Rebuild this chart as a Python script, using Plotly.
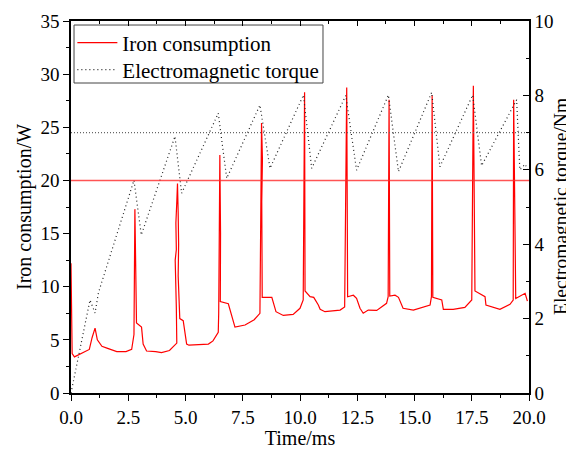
import plotly.graph_objects as go

# ---- data ----
iron_time = [0.0, 0.05, 0.15, 0.45, 0.8, 0.92, 1.05, 1.15, 1.35, 1.6, 2.0, 2.4, 2.65, 2.75,
             2.79, 2.86, 2.95, 3.08, 3.15, 3.3, 3.7, 3.95, 4.3, 4.5, 4.62,
             4.6, 4.55, 4.6, 4.58, 4.62, 4.65, 4.68, 4.7, 4.68, 4.72, 4.75,
             4.9, 5.05, 5.15, 6.0, 6.2, 6.43,
             6.45, 6.47, 6.5, 6.53, 6.52,
             6.87, 7.16, 7.6, 8.0, 8.25,
             8.27, 8.25, 8.3, 8.32, 8.36, 8.33, 8.35, 8.35,
             8.77, 8.95, 9.27, 9.7, 10.0, 10.14,
             10.2, 10.22, 10.44, 10.6, 10.8, 10.88, 11.09, 11.75, 11.95,
             12.04, 12.08, 12.33, 12.47, 12.62, 12.76, 12.98, 13.35, 13.78, 13.85,
             13.89, 13.92, 14.15, 14.3, 14.5, 14.95, 15.31, 15.68, 15.74,
             15.77, 15.8, 16.19, 16.26, 16.69, 17.2, 17.5,
             17.57, 17.64, 18.08, 18.12, 18.73, 19.17, 19.31,
             19.33, 19.42, 19.83, 19.93]
iron_power = [12.2, 3.7, 3.4, 3.7, 4.1, 5.2, 6.1, 5.0, 4.4, 4.2, 3.9, 3.9, 4.1, 5.5,
              17.3, 6.6, 6.4, 6.2, 4.6, 3.95, 3.9, 3.8, 4.0, 4.4, 4.7,
              8.0, 12.5, 13.5, 16.0, 18.0, 19.7, 17.0, 14.0, 11.0, 8.0, 7.0,
              6.8, 4.6, 4.5, 4.6, 4.9, 5.7,
              7.5, 14.5, 22.4, 15.0, 8.6,
              8.4, 6.2, 6.4, 6.9, 7.5,
              13.5, 14.5, 20.0, 25.4, 22.0, 18.0, 12.0, 9.0,
              9.0, 7.65, 7.3, 7.4, 7.97, 8.75,
              28.3, 9.6, 9.06, 9.0, 8.28, 7.87, 7.65, 7.8, 8.1,
              28.75, 9.06, 9.2, 8.9, 7.97, 7.5, 7.8, 7.77, 8.44, 9.06,
              27.6, 9.12, 9.2, 9.0, 7.97, 7.8, 8.06, 8.28, 9.06,
              28.0, 9.0, 8.75, 7.87, 7.87, 8.06, 8.75,
              28.9, 9.6, 9.06, 8.28, 7.87, 8.34, 8.75,
              27.6, 8.9, 9.38, 8.65]

torque_time = [0.0, 0.83, 1.05, 1.2, 2.75, 3.07, 4.54, 4.83, 6.43, 6.8, 8.25, 8.69,
               10.15, 10.51, 12.0, 12.47, 13.86, 14.3, 15.75, 16.11, 17.54, 17.93,
               19.46, 19.6, 19.83, 19.95]
torque_value = [0.0, 2.5, 2.15, 2.7, 5.72, 4.25, 6.9, 5.37, 7.52, 5.77, 7.74, 6.04,
                8.01, 6.04, 8.0, 5.99, 8.01, 5.95, 8.08, 6.08, 8.01, 6.11,
                7.88, 6.0, 6.15, 6.0]

iron_mean = 20.0
torque_mean = 7.0
mean_span = [0.0, 20.0]

x_ticks = [0, 2.5, 5, 7.5, 10, 12.5, 15, 17.5, 20]

FONT = "Liberation Serif"

fig = go.Figure()

fig.add_trace(go.Scatter(x=mean_span, y=[iron_mean, iron_mean], mode="lines",
                         line=dict(color="rgba(255,40,40,0.8)", width=1.5),
                         showlegend=False, hoverinfo="skip", xaxis="x2", yaxis="y"))
fig.add_trace(go.Scatter(x=mean_span, y=[torque_mean, torque_mean], mode="lines",
                         line=dict(color="#666666", width=1.2, dash="1px,2px"),
                         showlegend=False, hoverinfo="skip", yaxis="y2"))
fig.add_trace(go.Scatter(x=iron_time, y=iron_power, mode="lines", name="Iron consumption",
                         line=dict(color="#ff0000", width=1.2), legend="legend"))
fig.add_trace(go.Scatter(x=torque_time, y=torque_value, mode="lines",
                         name="Electromagnetic torque", yaxis="y2", legend="legend2",
                         line=dict(color="#222222", width=1.2, dash="1px,3px")))

axis_common = dict(showline=True, linecolor="black", linewidth=1.5, showgrid=False,
                   zeroline=False, tickcolor="black", automargin=False,
                   tickfont=dict(family=FONT, size=19, color="black"))

legend_common = dict(x=0.003, xanchor="left", yanchor="middle",
                     bgcolor="rgba(0,0,0,0)", borderwidth=0,
                     font=dict(family=FONT, size=21, color="black"), itemwidth=40)

# page body has an 8px default margin, so the figure is 8px smaller and shifted
fig.update_layout(
    width=566, height=441,
    margin=dict(l=63, r=45, t=13, b=56, autoexpand=False),
    paper_bgcolor="white", plot_bgcolor="white",
    font=dict(family=FONT, size=19, color="black"),
    xaxis=dict(range=[0, 20], tickvals=x_ticks, tickformat=".1f", ticks="outside", ticklen=6,
               minor=dict(dtick=1.25, ticklen=3.5, ticks="outside", tickcolor="black"),
               title=dict(text="Time/ms", font=dict(family=FONT, size=20), standoff=2),
               **axis_common),
    xaxis2=dict(range=[0, 20], overlaying="x", side="top", anchor="y", tickvals=x_ticks,
                ticks="inside", ticklen=5, showticklabels=False,
                minor=dict(dtick=1.25, ticklen=3, ticks="inside", tickcolor="black"),
                **axis_common),
    yaxis=dict(range=[0, 35], dtick=5, ticks="outside", ticklen=6,
               minor=dict(dtick=2.5, ticklen=3.5, ticks="outside", tickcolor="black"),
               **axis_common),
    yaxis2=dict(range=[0, 10], dtick=2, overlaying="y", side="right", anchor="x",
                ticks="inside", ticklen=6,
                minor=dict(dtick=1, ticklen=3.5, ticks="inside", tickcolor="black"),
                **axis_common),
    legend=dict(y=0.9409, **legend_common),
    legend2=dict(y=0.8683, **legend_common),
    showlegend=True,
    shapes=[dict(type="rect", xref="paper", yref="paper", x0=0.0066, x1=0.5502,
                 y0=0.8333, y1=0.9892, line=dict(color="#444444", width=1),
                 fillcolor="white", layer="below")],
    annotations=[
        dict(text="Iron consumption/W", xref="paper", yref="paper", x=-0.1026, y=0.5,
             textangle=-90, showarrow=False, xanchor="center", yanchor="middle",
             font=dict(family=FONT, size=20, color="black")),
        dict(text="Electromagnetic torque/Nm", xref="paper", yref="paper", x=1.0677, y=0.5,
             textangle=-90, showarrow=False, xanchor="center", yanchor="middle",
             font=dict(family=FONT, size=19.5, color="black")),
    ],
)

fig.write_html("out.html")
